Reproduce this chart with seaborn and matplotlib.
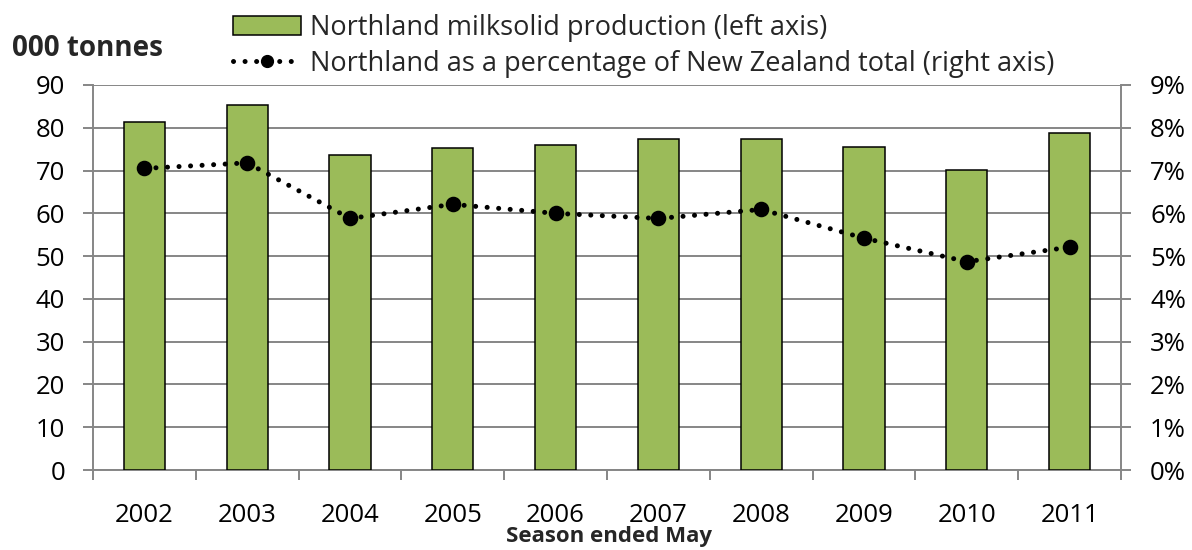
import numpy as np
import pandas as pd
import matplotlib
matplotlib.use("Agg")
import matplotlib.pyplot as plt
import seaborn as sns
from matplotlib.patches import Patch
from matplotlib.lines import Line2D
from matplotlib.ticker import PercentFormatter, MultipleLocator, FixedLocator

years = ["2002", "2003", "2004", "2005", "2006", "2007", "2008", "2009", "2010", "2011"]
production = [81.3, 85.4, 73.6, 75.3, 76.0, 77.3, 77.3, 75.4, 70.1, 78.8]
share_pct = [7.05, 7.18, 5.88, 6.21, 6.00, 5.88, 6.09, 5.42, 4.87, 5.21]

bar_label = "Northland milksolid production (left axis)"
line_label = "Northland as a percentage of New Zealand total (right axis)"
left_title = "000 tonnes"
x_title = "Season ended May"

sns.set_style("white")
plt.rcParams["font.family"] = ["Open Sans", "DejaVu Sans"]

df = pd.DataFrame({"year": years, "prod": production, "pct": share_pct})

W, H = 1192, 550
fig = plt.figure(figsize=(W / 100, H / 100), dpi=100)
ax = fig.add_axes([93 / W, 1 - 470 / H, (1121 - 93) / W, (470 - 85) / H])

green = "#9BBB59"
gray = "#868686"
dot_style = (0, (0.01, 2.3))

sns.barplot(data=df, x="year", y="prod", color=green, edgecolor="black",
            linewidth=1.1, width=0.40, saturation=1, ax=ax, zorder=3)
ax.set_xlim(-0.5, 9.5)
ax.set_ylim(0, 90)
ax.yaxis.set_major_locator(MultipleLocator(10))
ax.grid(axis="y", color=gray, linewidth=1.4, zorder=0)
ax.set_axisbelow(True)

ax2 = ax.twinx()
sns.pointplot(data=df, x="year", y="pct", color="black", linestyle=dot_style,
              dash_capstyle="round", markers="o", markersize=8.5, linewidth=3.6,
              ax=ax2)
ax2.set_ylim(0, 9)
ax2.set_xlim(-0.5, 9.5)
ax2.yaxis.set_major_locator(MultipleLocator(1))
ax2.yaxis.set_major_formatter(PercentFormatter(decimals=0))
ax2.set_ylabel("")
ax2.set_xlabel("")
ax2.grid(False)

for a in (ax, ax2):
    for s in a.spines.values():
        s.set_visible(False)
for a, side in ((ax, "left"), (ax, "bottom"), (ax2, "right")):
    a.spines[side].set_visible(True)
    a.spines[side].set_color(gray)
    a.spines[side].set_linewidth(1.4)

ax.tick_params(axis="y", left=True, direction="out", length=7, width=1.4,
               color=gray, labelsize=18.5, pad=13, labelcolor="black")
ax2.tick_params(axis="y", right=True, direction="out", length=7, width=1.4,
                color=gray, labelsize=18.5, pad=14, labelcolor="black")
ax.tick_params(axis="x", which="major", length=0, labelsize=18.5, pad=24,
               labelcolor="black")
ax.xaxis.set_minor_locator(FixedLocator(np.arange(-0.5, 10, 1.0)))
ax.tick_params(axis="x", which="minor", bottom=True, direction="out",
               length=7.2, width=1.4, color=gray)
ax2.tick_params(axis="x", length=0)

ax.set_ylabel("")
ax.set_xlabel("")

fig.text(609 / W, 1 - 542 / H, x_title, fontsize=16, fontweight="bold",
         ha="center", va="baseline")
fig.text(12 / W, 1 - 56.5 / H, left_title, fontsize=20, fontweight="bold",
         ha="left", va="baseline")

handles = [Patch(facecolor=green, edgecolor="black", linewidth=1.1),
           Line2D([0], [0], color="black", linestyle=dot_style, linewidth=3.6,
                  dash_capstyle="round", marker="o", markersize=8.5)]
leg = fig.legend(handles, [bar_label, line_label], loc="upper left",
                 bbox_to_anchor=(233 / W, 1 - 14 / H), frameon=False, fontsize=19.5,
                 handlelength=2.5, handletextpad=0.33, labelspacing=0.29,
                 borderaxespad=0, borderpad=0)

fig.savefig("out.png", dpi=100)
